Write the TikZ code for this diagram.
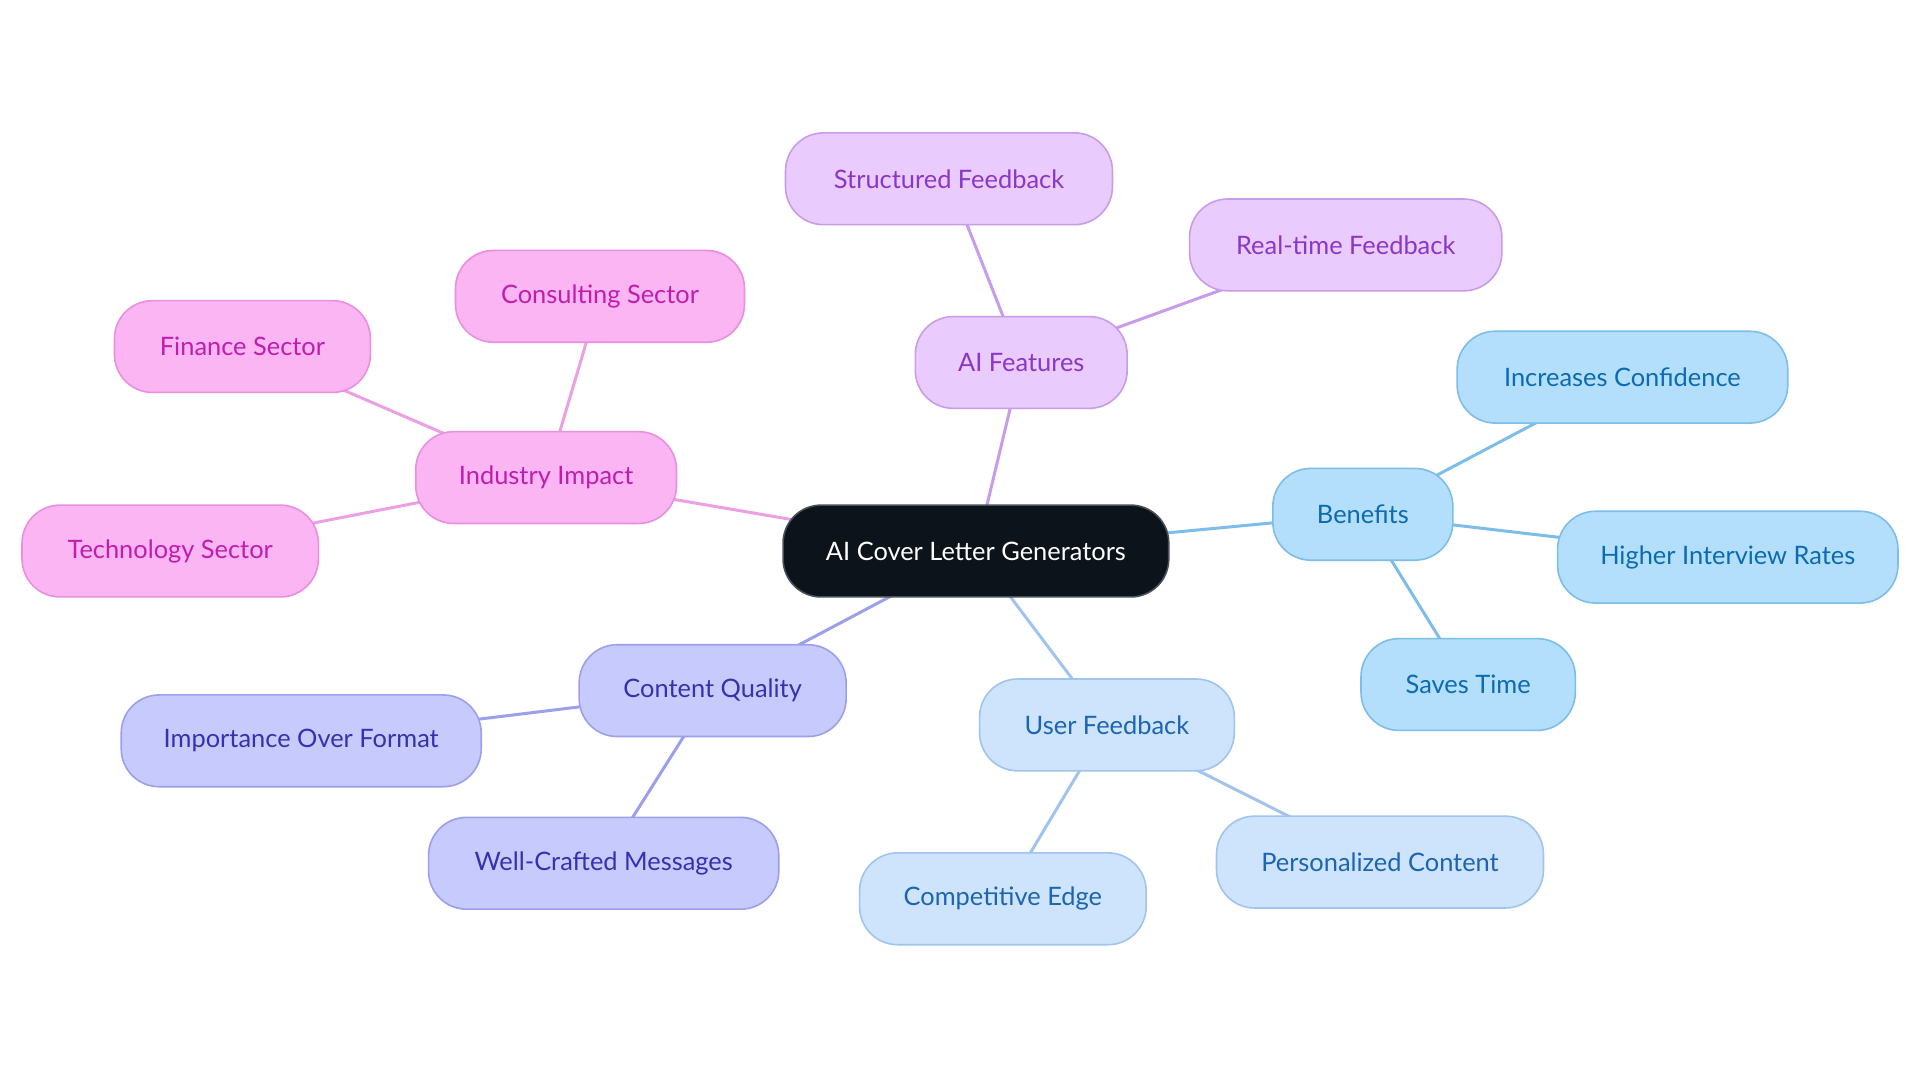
\documentclass[tikz,border=0pt]{standalone}
\usepackage{fontspec}
\setmainfont{Lato}
\usetikzlibrary{backgrounds}
\definecolor{pkF}{HTML}{FBB5F3}
\definecolor{pkD}{HTML}{E98FDF}
\definecolor{pkT}{HTML}{C01DAE}
\definecolor{puF}{HTML}{EACBFD}
\definecolor{puD}{HTML}{C79CEB}
\definecolor{puT}{HTML}{8A36C9}
\definecolor{inF}{HTML}{C7CAFD}
\definecolor{inD}{HTML}{9C9FEA}
\definecolor{inT}{HTML}{3631B0}
\definecolor{ufF}{HTML}{CDE4FC}
\definecolor{ufD}{HTML}{A0C4ED}
\definecolor{ufT}{HTML}{1C64B4}
\definecolor{beF}{HTML}{B3DFFC}
\definecolor{beD}{HTML}{7DBDE9}
\definecolor{beT}{HTML}{0B6BB3}
\definecolor{ctF}{HTML}{0C131A}
\definecolor{ctD}{HTML}{4A5057}
\tikzset{
  x=0.6122pt, y=-0.6122pt,
  box/.style={rounded corners=19pt, minimum height=45.9pt, inner sep=0pt, line width=0.8pt, font=\fontsize{12.7}{15}\selectfont},
  mw/.style={minimum width=#1*0.6122pt},
  pinkbox/.style={box, fill=pkF, draw=pkD, text=pkT},
  purplebox/.style={box, fill=puF, draw=puD, text=puT},
  indigobox/.style={box, fill=inF, draw=inD, text=inT},
  ufbox/.style={box, fill=ufF, draw=ufD, text=ufT},
  benbox/.style={box, fill=beF, draw=beD, text=beT},
  centerbox/.style={box, fill=ctF, draw=ctD, text=white},
  link/.style={line width=1.5pt},
}
\begin{document}
\begin{tikzpicture}
\useasboundingbox (0,0) rectangle (1568,884.4);
\node[centerbox, mw=315] (c) at (797,450) {AI Cover Letter Generators};

\node[pinkbox, mw=213] (ii) at (446,390) {Industry Impact};
\node[pinkbox, mw=209] (fs) at (198,283) {Finance Sector};
\node[pinkbox, mw=236] (cs) at (490,242) {Consulting Sector};
\node[pinkbox, mw=242] (ts) at (139,450) {Technology Sector};

\node[purplebox, mw=173] (af) at (834,296) {AI Features};
\node[purplebox, mw=267] (sf) at (775,146) {Structured Feedback};
\node[purplebox, mw=255] (rf) at (1099,200) {Real-time Feedback};

\node[benbox, mw=147] (be) at (1113,420) {Benefits};
\node[benbox, mw=270] (ic) at (1325,308) {Increases Confidence};
\node[benbox, mw=278] (hi) at (1411,455) {Higher Interview Rates};
\node[benbox, mw=175] (st) at (1199,559) {Saves Time};

\node[ufbox, mw=208] (uf) at (904,592) {User Feedback};
\node[ufbox, mw=267] (pc) at (1127,704) {Personalized Content};
\node[ufbox, mw=234] (ce) at (819,734) {Competitive Edge};

\node[indigobox, mw=218] (cq) at (582,564) {Content Quality};
\node[indigobox, mw=294] (io) at (246,605) {Importance Over Format};
\node[indigobox, mw=286] (wc) at (493,705) {Well-Crafted Messages};

\begin{pgfonlayer}{background}
\fill[white] (0,0) rectangle (1568,884.4);
\draw[link, draw=pkD!85] (c.center) -- (ii.center);
\draw[link, draw=pkD!85] (ii.center) -- (fs.center);
\draw[link, draw=pkD!85] (ii.center) -- (cs.center);
\draw[link, draw=pkD!85] (ii.center) -- (ts.center);
\draw[link, draw=puD] (c.center) -- (af.center);
\draw[link, draw=puD] (af.center) -- (sf.center);
\draw[link, draw=puD] (af.center) -- (rf.center);
\draw[link, draw=beD] (c.center) -- (be.center);
\draw[link, draw=beD] (be.center) -- (ic.center);
\draw[link, draw=beD] (be.center) -- (hi.center);
\draw[link, draw=beD] (be.center) -- (st.center);
\draw[link, draw=ufD] (c.center) -- (uf.center);
\draw[link, draw=ufD] (uf.center) -- (pc.center);
\draw[link, draw=ufD] (uf.center) -- (ce.center);
\draw[link, draw=inD] (c.center) -- (cq.center);
\draw[link, draw=inD] (cq.center) -- (io.center);
\draw[link, draw=inD] (cq.center) -- (wc.center);
\end{pgfonlayer}
\end{tikzpicture}
\end{document}
